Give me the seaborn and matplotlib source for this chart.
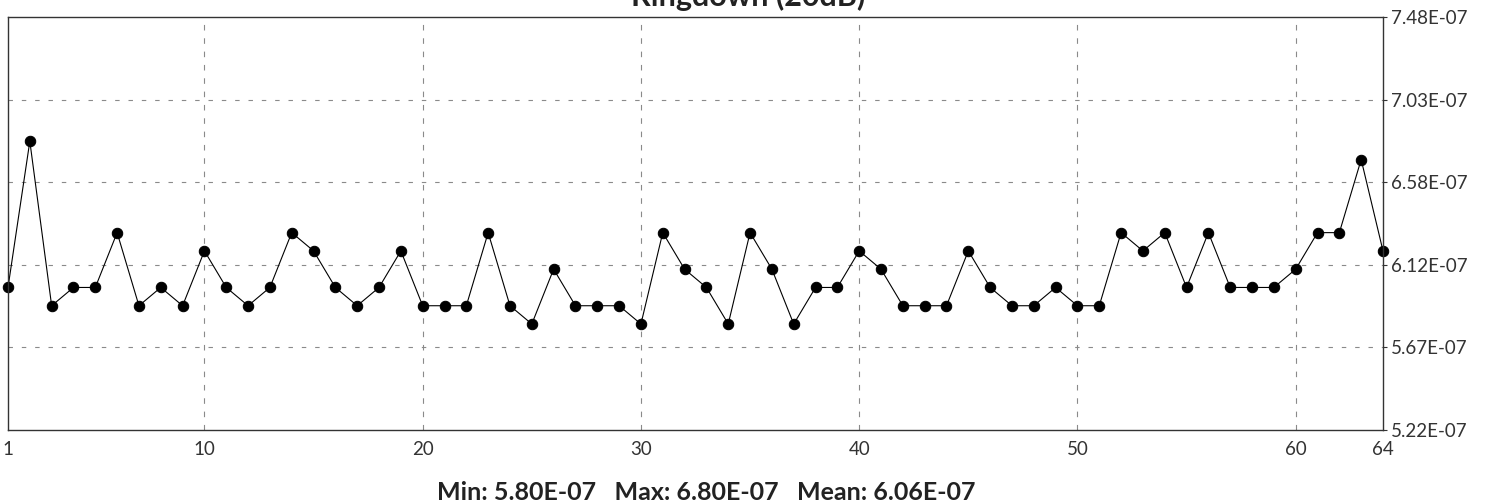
import seaborn as sns
import pandas as pd
from matplotlib import pyplot as plt

# ringdown readings, E-07 seconds, one per measurement 1..64
measurement = list(range(1, 65))
ringdown_e7 = [
    6.0, 6.8, 5.9, 6.0, 6.0, 6.3, 5.9, 6.0, 5.9, 6.2,
    6.0, 5.9, 6.0, 6.3, 6.2, 6.0, 5.9, 6.0, 6.2, 5.9,
    5.9, 5.9, 6.3, 5.9, 5.8, 6.1, 5.9, 5.9, 5.9, 5.8,
    6.3, 6.1, 6.0, 5.8, 6.3, 6.1, 5.8, 6.0, 6.0, 6.2,
    6.1, 5.9, 5.9, 5.9, 6.2, 6.0, 5.9, 5.9, 6.0, 5.9,
    5.9, 6.3, 6.2, 6.3, 6.0, 6.3, 6.0, 6.0, 6.0, 6.1,
    6.3, 6.3, 6.7, 6.2,
]
x_ticks = [1, 10, 20, 30, 40, 50, 60, 64]
x_labels = ["1", "10", "20", "30", "40", "50", "60", "64"]
y_ticks = [5.22e-7, 5.672e-7, 6.124e-7, 6.576e-7, 7.028e-7, 7.48e-7]
y_labels = ["5.22E-07", "5.67E-07", "6.12E-07", "6.58E-07", "7.03E-07", "7.48E-07"]
summary = "Min: 5.80E-07   Max: 6.80E-07   Mean: 6.06E-07"

sns.set_style("white")
plt.rcParams["font.family"] = ["Lato", "DejaVu Sans"]

df = pd.DataFrame({"n": measurement, "ringdown": [v * 1e-7 for v in ringdown_e7]})

fig = plt.figure(figsize=(15.07, 5.04), dpi=100)
ax = fig.add_axes([8 / 1507, 74 / 504, 1375 / 1507, 413 / 504])

sns.lineplot(data=df, x="n", y="ringdown", ax=ax, color="black", linewidth=0.8,
             marker="o", markersize=7.5, markeredgecolor="black", clip_on=False)

ax.set_xlim(1, 64)
ax.set_ylim(y_ticks[0], y_ticks[-1])
ax.set_xticks(x_ticks)
ax.set_xticklabels(x_labels)
ax.set_yticks(y_ticks)
ax.set_yticklabels(y_labels)
ax.yaxis.tick_right()
ax.tick_params(axis="both", labelsize=13.5, colors="#333333", length=3, width=0.8, pad=3)
ax.tick_params(axis="x", pad=5)
ax.set_xlabel("")
ax.set_ylabel("")

# dashed grid only on the inner ticks
for xv in x_ticks[1:-1]:
    ax.axvline(xv, color="#8a8a8a", linewidth=0.8, linestyle=(0, (5, 7)), zorder=0)
for yv in y_ticks[1:-1]:
    ax.axhline(yv, color="#8a8a8a", linewidth=0.8, linestyle=(0, (4, 8)), zorder=0)

for s in ax.spines.values():
    s.set_color("#333333")
    s.set_linewidth(1.0)

fig.text(748 / 1507, 1 - 6 / 504, "Ringdown (20dB)", ha="center", va="baseline",
         fontsize=22, fontweight="bold", color="#222222")
fig.text(706 / 1507, 1 - 493 / 504, summary, ha="center", va="center",
         fontsize=18, fontweight="bold", color="#222222")

fig.savefig("out.png", dpi=100)
